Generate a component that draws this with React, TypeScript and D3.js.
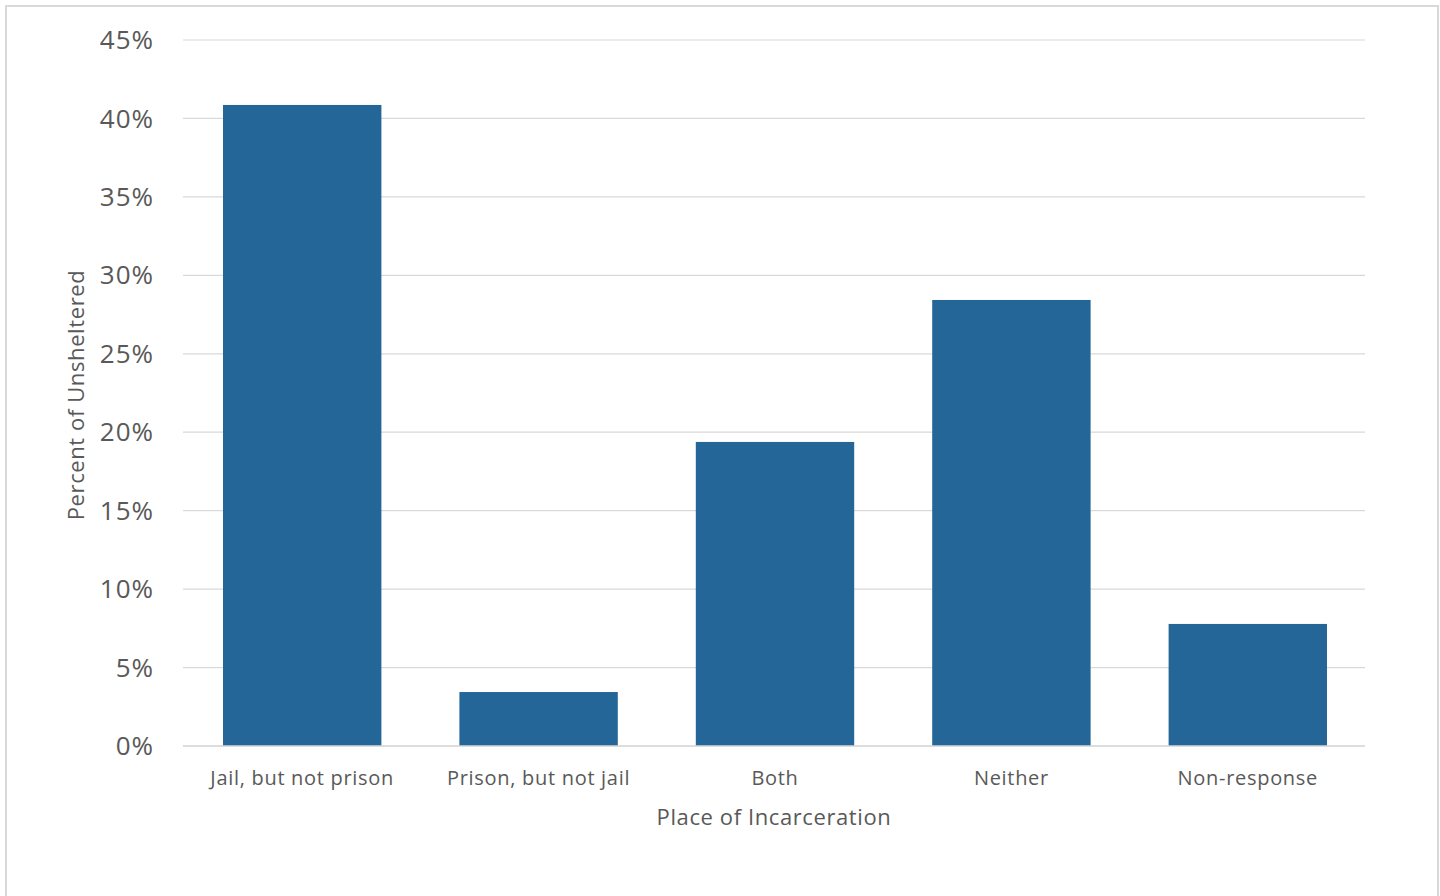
import React from "react";
import * as d3 from "d3";

const categories = ["Jail, but not prison", "Prison, but not jail", "Both", "Neither", "Non-response"];
const values = [40.86, 3.44, 19.38, 28.43, 7.78];
const yTicks = [0, 5, 10, 15, 20, 25, 30, 35, 40, 45];

const W = 1440, H = 896;
const m = { left: 183, right: 75, top: 40, bottom: 150 };

export default function App() {
  const x = d3.scaleBand<string>().domain(categories).range([m.left + 1, W - m.right + 1]).paddingInner(0.33).paddingOuter(0.165);
  const y = d3.scaleLinear().domain([0, 45]).range([H - m.bottom, m.top]);
  const font = "'Open Sans', 'Noto Sans', sans-serif";
  return (
    <svg width={W} height={H} style={{ position: "absolute", left: 0, top: 0, background: "#fff" }}>
      <rect x={6} y={6} width={1432} height={900} fill="#fff" stroke="#d9d9d9" strokeWidth={2} />
      {yTicks.map((t) => (
        <g key={t}>
          <line x1={m.left} x2={W - m.right} y1={y(t)} y2={y(t)} stroke="#d9d9d9" strokeWidth={1.2} />
          <text x={154} y={y(t)} dy="0.35em" textAnchor="end" fontFamily={font} fontSize={26} letterSpacing={1} fill="#595959">{t}%</text>
        </g>
      ))}
      {categories.map((c, i) => (
        <rect key={c} x={x(c)!} width={x.bandwidth()} y={y(values[i])} height={y(0) - y(values[i])} fill="#236697" />
      ))}
      <line x1={m.left} x2={W - m.right} y1={y(0)} y2={y(0)} stroke="#d9d9d9" strokeWidth={1.5} />
      {categories.map((c) => (
        <text key={c} x={x(c)! + x.bandwidth() / 2} y={785} textAnchor="middle" fontFamily={font} fontSize={20} letterSpacing={0.7} fill="#595959">{c}</text>
      ))}
      <text x={(m.left + W - m.right) / 2} y={825} textAnchor="middle" fontFamily={font} fontSize={22} letterSpacing={0.6} fill="#595959">Place of Incarceration</text>
      <text transform={`translate(84, ${y(22.5) + 2}) rotate(-90)`} textAnchor="middle" fontFamily={font} fontSize={22} letterSpacing={0.6} fill="#595959">Percent of Unsheltered</text>
    </svg>
  );
}
